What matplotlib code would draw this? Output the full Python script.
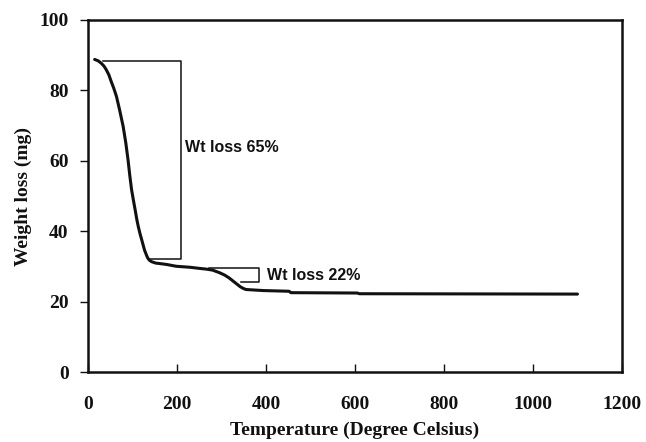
import matplotlib
matplotlib.use("Agg")
import matplotlib.pyplot as plt

# TGA curve: temperature (°C) vs remaining weight (mg)
temperature = [15, 23, 30, 36, 41, 47, 52, 58, 64, 71, 79, 85, 90, 94, 98, 102, 106, 110,
               113, 117, 121, 124, 127, 131, 134, 138, 143, 152, 165, 177, 198,
               230, 250, 265, 280, 295, 307, 317, 327, 335, 342, 349, 355, 394, 452, 456,
               605, 610, 1100]
weight = [88.8, 88.4, 87.7, 86.9, 85.9, 84.4, 82.6, 80.6, 78.3, 74.5, 69.8, 65.1, 60.3, 55.8,
          51.8, 48.9, 46.1, 43.2, 41.4, 39.3, 37.5, 36.1, 34.7, 33.4, 32.5, 31.8, 31.4,
          31.0, 30.8, 30.6, 30.1, 29.8, 29.5, 29.3, 29.0, 28.3, 27.6, 26.8, 25.8, 25.0, 24.3,
          23.8, 23.5, 23.2, 23.0, 22.6, 22.5, 22.3, 22.2]

# Bracket for the first loss step
step1_x = [34, 210, 210, 139]
step1_y = [88.4, 88.4, 32.2, 32.2]
step1_label = "Wt loss 65%"

# Bracket for the second loss step
step2_x = [272, 385, 385, 343]
step2_y = [29.5, 29.5, 25.7, 25.7]
step2_label = "Wt loss 22%"

x_ticks = [0, 200, 400, 600, 800, 1000, 1200]
y_ticks = [0, 20, 40, 60, 80, 100]

fig = plt.figure(figsize=(6.46, 4.42), dpi=100)
ax = fig.add_axes([0.1362, 0.1577, 0.9628 - 0.1362, 0.9548 - 0.1577])

ax.plot(temperature, weight, color="#111111", lw=2.2, solid_capstyle="round",
        solid_joinstyle="round")
ax.plot(step1_x, step1_y, color="#111111", lw=1.1)
ax.plot(step2_x, step2_y, color="#111111", lw=1.1)

ann_font = dict(family="Liberation Sans", weight="bold", size=11.5, color="#111111")
ax.text(218, 63.7, step1_label, va="center", ha="left", **ann_font)
ax.text(402, 27.6, step2_label, va="center", ha="left", **ann_font)

ax.set_xlim(0, 1200)
ax.set_ylim(0, 100)
ax.set_xticks(x_ticks)
ax.set_yticks(y_ticks)

tick_font = dict(family="Liberation Serif", weight="bold", size=14)
ax.set_xticklabels([str(v) for v in x_ticks], **tick_font)
ax.set_yticklabels([str(v) for v in y_ticks], **tick_font)
ax.tick_params(axis="x", direction="in", length=6, width=1, pad=17, colors="#111111")
ax.tick_params(axis="y", direction="out", length=6, width=1, pad=8, colors="#111111")

for s in ax.spines.values():
    s.set_linewidth(1.8)
    s.set_color("#111111")

ax.set_xlabel("Temperature (Degree Celsius)", family="Liberation Serif", weight="bold",
              size=14, labelpad=6, color="#111111")
ax.set_ylabel("Weight loss (mg)", family="Liberation Serif", weight="bold",
              size=14, labelpad=5, color="#111111")

fig.savefig("out.png", dpi=100)
